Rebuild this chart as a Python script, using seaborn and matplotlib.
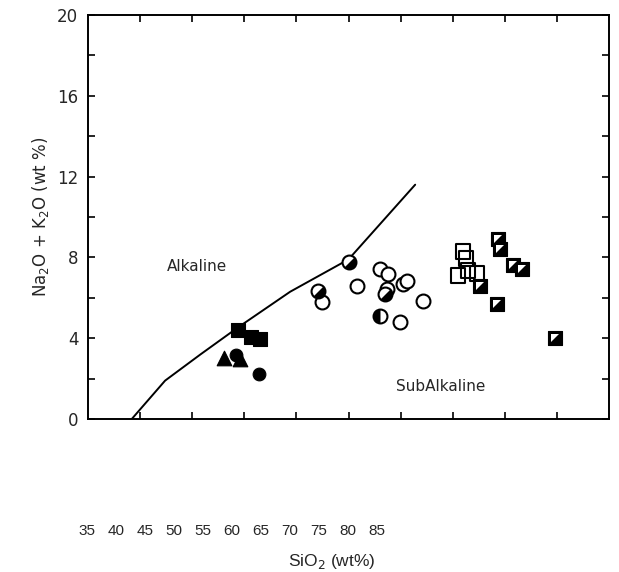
import numpy as np
import pandas as pd
import matplotlib
matplotlib.use("Agg")
import matplotlib.pyplot as plt
from matplotlib.path import Path
import seaborn as sns

# ---------------- data ----------------
line_sio2 = [39.2, 42.4, 45.8, 49.3, 54.4, 60.0, 66.4]
line_alk = [0.0, 1.9, 3.2, 4.5, 6.3, 7.9, 11.6]

fsq_x = [49.4, 50.6, 51.5]
fsq_y = [4.42, 4.07, 3.97]

tri_x = [48.05, 49.6]
tri_y = [3.03, 2.98]

fci_x = [49.2, 51.4]
fci_y = [3.18, 2.23]

hci_x = [60.05, 57.07, 63.5, 63.02]
hci_y = [7.79, 6.35, 6.2, 5.11]

oci_x = [57.46, 60.82, 63.02, 63.79, 65.23, 65.61, 63.7, 67.15, 64.94]
oci_y = [5.81, 6.6, 7.44, 7.2, 6.7, 6.85, 6.45, 5.86, 4.81]

osq_x = [70.99, 71.28, 71.47, 70.51, 72.33]
osq_y = [8.29, 7.94, 7.34, 7.1, 7.2]

hsq_x = [74.35, 74.54, 75.79, 76.65, 72.62, 74.25, 79.82]
hsq_y = [8.93, 8.44, 7.64, 7.44, 6.6, 5.71, 4.02]

x_ticks = [35, 40, 45, 50, 55, 60, 65, 70, 75, 80, 85]
y_ticks = [0, 4, 8, 12, 16, 20]

# ---------------- style ----------------
sns.set_style("ticks")
plt.rcParams["font.family"] = ["DejaVu Sans"]
plt.rcParams["mathtext.fontset"] = "dejavusans"

W, H = 619, 572
fig = plt.figure(figsize=(W / 100, H / 100), dpi=100)

def px_rect(x0, y0, x1, y1):
    return [x0 / W, 1 - y1 / H, (x1 - x0) / W, (y1 - y0) / H]

ax = fig.add_axes(px_rect(88, 15, 609, 419))
ax.set_xlim(35, 85)
ax.set_ylim(0, 20)

# curve
sns.lineplot(x=line_sio2, y=line_alk, sort=False, estimator=None,
             color="black", lw=1.4, ax=ax)

# custom marker paths
theta = np.linspace(-np.pi * 0.75, np.pi * 0.25, 40)
half_r = Path(np.column_stack([np.cos(theta), np.sin(theta)]).tolist() + [[np.cos(theta[0]), np.sin(theta[0])]], closed=True)
theta2 = np.linspace(np.pi * 0.5, np.pi * 1.5, 40)
half_l = Path(np.column_stack([np.cos(theta2), np.sin(theta2)]).tolist() + [[0, 1]], closed=True)
tri_ul = Path([[-1, -1], [-1, 1], [1, 1], [-1, -1]], closed=True)

kw = dict(ax=ax, legend=False, zorder=3)

# filled squares
sns.scatterplot(x=fsq_x, y=fsq_y, marker="s", s=95, color="black", edgecolor="black", **kw)
# triangles
sns.scatterplot(x=tri_x, y=tri_y, marker="^", s=110, color="black", edgecolor="black", **kw)
# filled circles
sns.scatterplot(x=fci_x, y=fci_y, marker="o", s=85, color="black", edgecolor="black", **kw)
# open circles
sns.scatterplot(x=oci_x, y=oci_y, marker="o", s=100, facecolor="white", edgecolor="black", linewidth=1.5, **kw)
# half circles
sns.scatterplot(x=hci_x, y=hci_y, marker="o", s=100, facecolor="white", edgecolor="black", linewidth=1.5, **kw)
sns.scatterplot(x=hci_x[:3], y=hci_y[:3], marker=half_r, s=100, color="black", linewidth=0, **kw)
sns.scatterplot(x=hci_x[3:], y=hci_y[3:], marker=half_l, s=100, color="black", linewidth=0, **kw)
# open squares
sns.scatterplot(x=osq_x, y=osq_y, marker="s", s=110, facecolor="none", edgecolor="black", linewidth=1.5, **kw)
# half squares
sns.scatterplot(x=hsq_x, y=hsq_y, marker="s", s=100, color="black", edgecolor="black", **kw)
sns.scatterplot(x=hsq_x, y=hsq_y, marker=tri_ul, s=30, color="white", linewidth=0, **kw)

# text labels
ax.text(45.5, 7.55, "Alkaline", ha="center", va="center", fontsize=11)
ax.text(68.8, 1.6, "SubAlkaline", ha="center", va="center", fontsize=11)

# ticks & spines
ax.set_xticks(range(40, 85, 5))
ax.set_yticks(y_ticks)
ax.set_yticks(range(2, 20, 4), minor=True)
ax.tick_params(axis="both", which="both", direction="in", top=True, right=True,
               labelbottom=False, width=1.2, length=5, color="black")
ax.tick_params(axis="y", which="major", labelsize=12, pad=7)
for sp in ax.spines.values():
    sp.set_linewidth(1.4)
    sp.set_color("black")
ax.set_xlabel("")
ax.set_ylabel(r"Na$_2$O + K$_2$O (wt %)", fontsize=12, labelpad=4)

# separate tick-label row (offset from the plot, as in the source figure)
ax2 = fig.add_axes(px_rect(87, 519, 377, 520))
ax2.set_xlim(35, 85)
ax2.set_xticks(x_ticks)
ax2.set_xticklabels([str(t) for t in x_ticks], fontsize=11, family="Liberation Sans")
ax2.tick_params(axis="x", length=0, pad=3)
ax2.set_yticks([])
for sp in ax2.spines.values():
    sp.set_visible(False)
ax2.patch.set_visible(False)
ax2.set_xlabel(r"SiO$_2$ (wt%)", fontsize=12.5, family="Liberation Sans")
ax2.xaxis.set_label_coords((332 - 87) / 290, -32)

fig.savefig("out.png", dpi=100)
